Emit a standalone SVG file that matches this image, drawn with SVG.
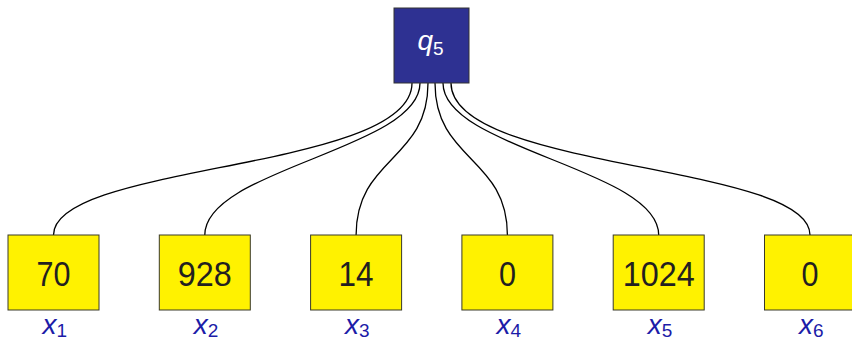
<svg xmlns="http://www.w3.org/2000/svg" width="852" height="341" viewBox="0 0 852 341">
<style>
.leaf{fill:#fff200;stroke:#3a3a2a;stroke-width:1}
.root{fill:#2e3192;stroke:#333;stroke-width:1}
.num{font-family:"Liberation Sans",Arial,sans-serif;font-size:35px;fill:#231f20;text-anchor:middle}
.lab{font-family:"Liberation Sans",Arial,sans-serif;fill:#1c1ca8}
.edge{fill:none;stroke:#000;stroke-width:1.3}
.it{font-style:italic;font-size:28px}
.sub{font-size:19px}
</style>
<g id="connectors">
<path class="edge" d="M412,83 C412,171 53.5,163 53.5,235"/>
<path class="edge" d="M420,83 C420,149 204.8,169 204.8,235"/>
<path class="edge" d="M428,83 C428,161 356.1,157 356.1,235"/>
<path class="edge" d="M435,83 C435,161 507.4,157 507.4,235"/>
<path class="edge" d="M443,83 C443,149 658.7,169 658.7,235"/>
<path class="edge" d="M451,83 C451,171 810,163 810,235"/>
</g>
<g id="q5">
<rect class="root" x="394" y="8" width="75" height="75"/>
<text font-family="Liberation Sans,Arial,sans-serif" fill="#fff" x="417.5" y="50"><tspan class="it">q</tspan><tspan class="sub" dy="5">5</tspan></text>
</g>
<g id="x1">
<rect class="leaf" x="8" y="235" width="91" height="75"/>
<text class="num" x="53.5" y="286" textLength="34" lengthAdjust="spacingAndGlyphs">70</text>
<text class="lab" x="42.5" y="334"><tspan class="it">x</tspan><tspan class="sub" dy="3">1</tspan></text>
</g>
<g id="x2">
<rect class="leaf" x="159.3" y="235" width="91" height="75"/>
<text class="num" x="204.8" y="286" textLength="54" lengthAdjust="spacingAndGlyphs">928</text>
<text class="lab" x="193.8" y="334"><tspan class="it">x</tspan><tspan class="sub" dy="3">2</tspan></text>
</g>
<g id="x3">
<rect class="leaf" x="310.6" y="235" width="91" height="75"/>
<text class="num" x="356.1" y="286" textLength="35" lengthAdjust="spacingAndGlyphs">14</text>
<text class="lab" x="345.1" y="334"><tspan class="it">x</tspan><tspan class="sub" dy="3">3</tspan></text>
</g>
<g id="x4">
<rect class="leaf" x="461.9" y="235" width="91" height="75"/>
<text class="num" x="507.4" y="286" textLength="17" lengthAdjust="spacingAndGlyphs">0</text>
<text class="lab" x="496.4" y="334"><tspan class="it">x</tspan><tspan class="sub" dy="3">4</tspan></text>
</g>
<g id="x5">
<rect class="leaf" x="613.2" y="235" width="91" height="75"/>
<text class="num" x="658.7" y="286" textLength="72" lengthAdjust="spacingAndGlyphs">1024</text>
<text class="lab" x="647.7" y="334"><tspan class="it">x</tspan><tspan class="sub" dy="3">5</tspan></text>
</g>
<g id="x6">
<rect class="leaf" x="764.5" y="235" width="91" height="75"/>
<text class="num" x="810" y="286" textLength="17" lengthAdjust="spacingAndGlyphs">0</text>
<text class="lab" x="799" y="334"><tspan class="it">x</tspan><tspan class="sub" dy="3">6</tspan></text>
</g>
</svg>
